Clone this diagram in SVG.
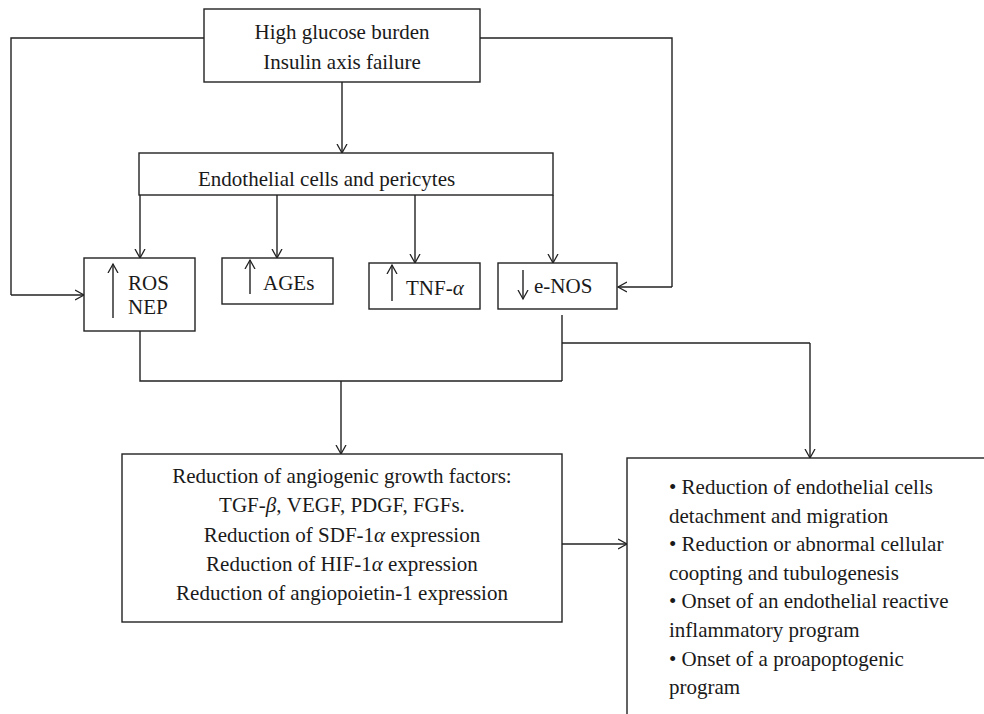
<svg xmlns="http://www.w3.org/2000/svg" width="984" height="714" viewBox="0 0 984 714">
<defs>
<marker id="ah" markerUnits="userSpaceOnUse" markerWidth="12" markerHeight="12" refX="9" refY="5" orient="auto" viewBox="0 0 12 10">
<path d="M0,0 L9,5 L0,10" fill="none" stroke="#222" stroke-width="1.3"/>
</marker>
</defs>
<style>
.box{fill:#fff;stroke:#222;stroke-width:1.4}
.ln{fill:none;stroke:#222;stroke-width:1.4}
.ar{fill:none;stroke:#222;stroke-width:1.4;marker-end:url(#ah)}
text{font-family:"Liberation Serif","Times New Roman",serif;font-size:21px;fill:#1a1a1a}
.c{text-anchor:middle}
.i{font-style:italic}
</style>
<rect width="984" height="714" fill="#fff"/>
<g id="connectors">
<path class="ln" d="M204,38 H11 V295"/>
<path class="ar" d="M11,295 H84"/>
<path class="ln" d="M480,38 H672 V287"/>
<path class="ar" d="M672,287 H618"/>
<path class="ar" d="M342,82 V153"/>
<path class="ar" d="M140,195 V258"/>
<path class="ar" d="M277,195 V258"/>
<path class="ar" d="M415,195 V263"/>
<path class="ar" d="M553,195 V263"/>
<path class="ln" d="M140,331 V381 H562"/>
<path class="ln" d="M562,315 V381"/>
<path class="ln" d="M562,343 H810"/>
<path class="ar" d="M810,343 V458"/>
<path class="ar" d="M341,381 V454"/>
<path class="ar" d="M562,544 H627"/>
</g>
<g id="top">
<rect class="box" x="204" y="9" width="276" height="73"/>
<text class="c" x="342" y="39">High glucose burden</text>
<text class="c" x="342" y="69">Insulin axis failure</text>
</g>
<g id="endothelial">
<rect class="box" x="139" y="153" width="414" height="42"/>
<text x="198" y="186">Endothelial cells and pericytes</text>
</g>
<g id="ros">
<rect class="box" x="84" y="258" width="111" height="73"/>
<path class="ar" d="M113,318 V264"/>
<text x="128" y="290">ROS</text>
<text x="128" y="314">NEP</text>
</g>
<g id="ages">
<rect class="box" x="222" y="258" width="111" height="46"/>
<path class="ar" d="M250,294 V260"/>
<text x="263" y="290">AGEs</text>
</g>
<g id="tnf">
<rect class="box" x="369" y="263" width="111" height="46"/>
<path class="ar" d="M392,301 V265"/>
<text x="406" y="295">TNF-<tspan class="i">α</tspan></text>
</g>
<g id="enos">
<rect class="box" x="498" y="263" width="119" height="46"/>
<path class="ar" d="M523,270 V299"/>
<text x="534" y="293">e-NOS</text>
</g>
<g id="growth">
<rect class="box" x="122" y="454" width="440" height="168"/>
<text class="c" x="342" y="483">Reduction of angiogenic growth factors:</text>
<text class="c" x="342" y="512">TGF-<tspan class="i">β</tspan>, VEGF, PDGF, FGFs.</text>
<text class="c" x="342" y="542">Reduction of SDF-1<tspan class="i">α</tspan> expression</text>
<text class="c" x="342" y="571">Reduction of HIF-1<tspan class="i">α</tspan> expression</text>
<text class="c" x="342" y="600">Reduction of angiopoietin-1 expression</text>
</g>
<g id="effects">
<rect class="box" x="627" y="458" width="400" height="300"/>
<text x="669" y="494">• Reduction of endothelial cells</text>
<text x="669" y="523">detachment and migration</text>
<text x="669" y="551">• Reduction or abnormal cellular</text>
<text x="669" y="580">coopting and tubulogenesis</text>
<text x="669" y="608">• Onset of an endothelial reactive</text>
<text x="669" y="637">inflammatory program</text>
<text x="669" y="666">• Onset of a proapoptogenic</text>
<text x="669" y="694">program</text>
</g>
</svg>
